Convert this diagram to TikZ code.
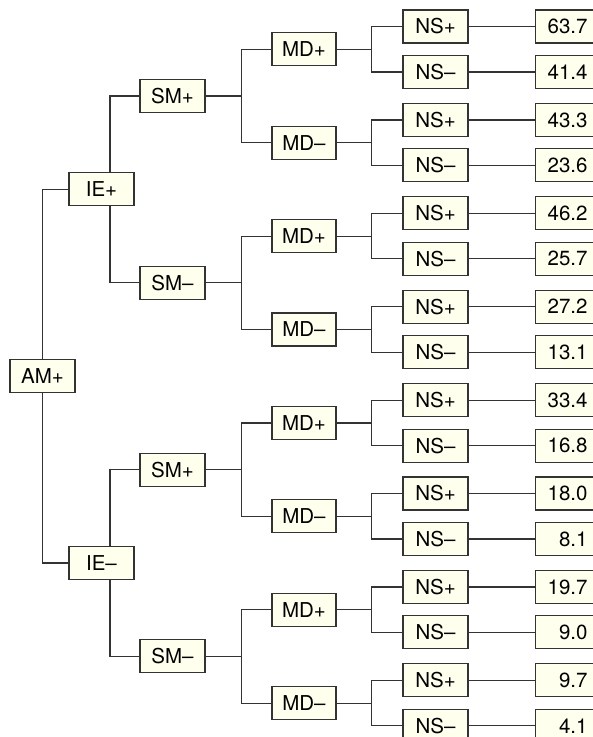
\documentclass[tikz,border=0pt]{standalone}
\usepackage{fontspec}
\setmainfont{TeX Gyre Heros}
\definecolor{cream}{HTML}{FFFFEE}
\definecolor{ink}{HTML}{333333}
\tikzset{box/.style={draw=ink, fill=cream, line width=1.1pt, minimum width=65pt, minimum height=33pt, inner sep=0pt, font=\fontsize{20.5}{24}\selectfont},
    val/.style={box, minimum width=0pt, text width=44pt, align=right, inner xsep=8pt, anchor=west},
    link/.style={draw=ink, line width=1.2pt}}

\begin{document}
\begin{tikzpicture}[x=1pt,y=-1pt]
        \clip (0,0) rectangle (593,737);
        \node[box] (am) at (42.5,376.2) {AM+};
        \node[box] (ie1) at (101.5,189.4) {IE+}; \node[box] (ie2) at (101.5,563) {IE–};
        \node[box] (sm1) at (172.5,96) {SM+}; \node[box] (sm2) at (172.5,282.8) {SM–}; \node[box] (sm3) at (172.5,469.6) {SM+}; \node[box] (sm4) at (172.5,656.4) {SM–};
        \node[box,minimum width=64pt] (md1) at (304,49.2) {MD+}; \node[box,minimum width=64pt] (md2) at (304,142.6) {MD–};
        \node[box,minimum width=64pt] (md3) at (304,236.1) {MD+}; \node[box,minimum width=64pt] (md4) at (304,329.5) {MD–};
        \node[box,minimum width=64pt] (md5) at (304,422.9) {MD+}; \node[box,minimum width=64pt] (md6) at (304,516.3) {MD–};
        \node[box,minimum width=64pt] (md7) at (304,609.7) {MD+}; \node[box,minimum width=64pt] (md8) at (304,703.1) {MD–};
        \foreach \i/\y/\s/\v in {1/26.5/+/63.7, 2/72/–/41.4, 3/119.9/+/43.3, 4/165.4/–/23.6, 5/213.3/+/46.2, 6/258.8/–/25.7, 7/306.7/+/27.2, 8/352.2/–/13.1,
            9/400.1/+/33.4, 10/445.6/–/16.8, 11/493.5/+/18.0, 12/539/–/8.1, 13/586.9/+/19.7, 14/632.4/–/9.0, 15/680.3/+/9.7, 16/725.8/–/4.1}
        {
            \node[box] (ns\i) at (435.5,\y) {NS\s};
            \node[val] (v\i) at (535,\y) {\v};
            \draw[link] (ns\i) -- (v\i);
        }

        \draw[link] (am.north) |- (ie1.west); \draw[link] (am.south) |- (ie2.west);
        \draw[link] ([xshift=8.5pt]ie1.north) |- (sm1.west); \draw[link] ([xshift=8.5pt]ie1.south) |- (sm2.west);
        \draw[link] ([xshift=8.5pt]ie2.north) |- (sm3.west); \draw[link] ([xshift=8.5pt]ie2.south) |- (sm4.west);
        \foreach \s [evaluate=\s as \a using int(2*\s-1), evaluate=\s as \b using int(2*\s)] in {1,...,4}
            \draw[link] (sm\s.east) -- ++(36,0) coordinate (bar) |- (md\a.west) (bar) |- (md\b.west);
        \foreach \m [evaluate=\m as \a using int(2*\m-1), evaluate=\m as \b using int(2*\m)] in {1,...,8}
            \draw[link] (md\m.east) -- ++(35,0) coordinate (bar) |- (ns\a.west) (bar) |- (ns\b.west);
    \end{tikzpicture}
\end{document}
